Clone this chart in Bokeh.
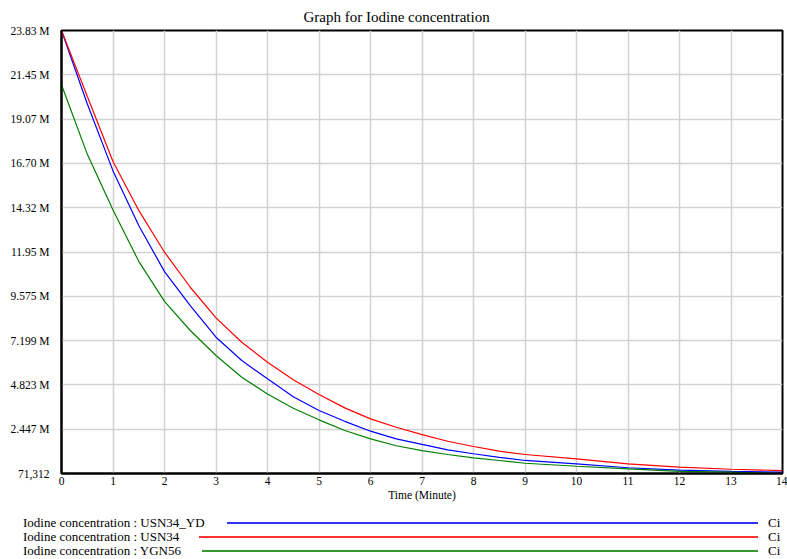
from bokeh.plotting import figure
from bokeh.models import Range1d, FixedTicker, Div
from bokeh.layouts import column
from bokeh.embed import file_html
from bokeh.resources import INLINE

# ---------------- data ----------------
time = [0, 0.5, 1, 1.5, 2, 2.5, 3, 3.5, 4, 4.5, 5, 5.5, 6, 6.5, 7, 7.5, 8, 8.5, 9, 10, 11, 12, 13, 14]

usn34_yd = [23830000, 19900000, 16300000, 13370000, 10900000, 9080000, 7380000, 6130000,
            5150000, 4190000, 3450000, 2870000, 2340000, 1930000, 1630000, 1340000,
            1130000, 940000, 770000, 590000, 380000, 250000, 190000, 140000]
usn34 = [23830000, 20300000, 16800000, 14180000, 11940000, 10060000, 8420000, 7110000,
         6040000, 5100000, 4310000, 3590000, 3000000, 2550000, 2160000, 1800000,
         1520000, 1270000, 1090000, 860000, 590000, 410000, 300000, 230000]
ygn56 = [20920000, 17200000, 14200000, 11450000, 9300000, 7740000, 6400000, 5230000,
         4340000, 3570000, 2950000, 2380000, 1930000, 1560000, 1300000, 1090000,
         910000, 770000, 620000, 460000, 320000, 190000, 140000, 71312]

series_names = ["Iodine concentration : USN34_YD",
                "Iodine concentration : USN34",
                "Iodine concentration : YGN56"]
series_units = ["Ci", "Ci", "Ci"]
series_colors = ["#0000ff", "#ff0000", "#008000"]

y_min = 71312
y_max = 23830000
y_tick_labels = ["71,312", "2.447 M", "4.823 M", "7.199 M", "9.575 M", "11.95 M",
                 "14.32 M", "16.70 M", "19.07 M", "21.45 M", "23.83 M"]
x_ticks = list(range(0, 15))

title_text = "Graph for Iodine concentration"
x_label = "Time (Minute)"

FONT = "Liberation Serif"

# ---------------- main chart ----------------
p = figure(width=787, height=503, output_backend="svg", toolbar_location=None,
           x_range=Range1d(0, 14), y_range=Range1d(y_min, y_max),
           min_border_left=61, min_border_right=5, min_border_top=30, min_border_bottom=30,
           title=title_text)
p.background_fill_color = "white"
p.border_fill_color = "white"
p.outline_line_color = "black"
p.outline_line_width = 2

p.title.text_font = FONT
p.title.text_font_size = "15px"
p.title.text_font_style = "normal"
p.title.align = "left"
p.title.offset = 242
p.title.vertical_align = "middle"
p.title.text_color = "black"

step = (y_max - y_min) / (len(y_tick_labels) - 1)
y_ticks = [y_min + i * step for i in range(len(y_tick_labels))]
p.yaxis.ticker = FixedTicker(ticks=y_ticks)
p.yaxis.major_label_overrides = {t: lab for t, lab in zip(y_ticks, y_tick_labels)}
p.xaxis.ticker = FixedTicker(ticks=x_ticks)
p.xaxis.axis_label = x_label

for ax in (p.xaxis, p.yaxis):
    ax.axis_line_color = "black"
    ax.axis_line_width = 2
    ax.major_tick_out = 0
    ax.major_tick_in = 0
    ax.minor_tick_out = 0
    ax.minor_tick_in = 0
    ax.major_label_text_font = FONT
    ax.major_label_text_font_size = "11.5px"
    ax.major_label_text_color = "black"
    ax.axis_label_text_font = FONT
    ax.axis_label_text_font_size = "11.5px"
    ax.axis_label_text_font_style = "normal"
    ax.axis_label_text_color = "black"
p.yaxis.major_label_standoff = 12
p.xaxis.major_label_standoff = 3
p.xaxis.axis_label_standoff = 1

p.grid.grid_line_color = "#d2d2d2"
p.grid.grid_line_width = 1.5

for ys, col in zip([usn34_yd, usn34, ygn56], series_colors):
    p.line(time, ys, line_color=col, line_width=1.2)

# ---------------- legend strip (HTML) ----------------
row_center = [20, 34, 48]
line_start = [227, 199, 202]
line_end = 758
parts = []
for name, unit, col, cy, x0 in zip(series_names, series_units, series_colors, row_center, line_start):
    parts.append(
        f'<div style="position:absolute;left:23px;top:{cy - 8}px;line-height:16px;'
        f'font-family:\'{FONT}\';font-size:13px;color:black;white-space:nowrap;">{name}</div>'
    )
    parts.append(
        f'<div style="position:absolute;left:{x0}px;top:{cy - 1}px;width:{line_end - x0}px;'
        f'height:2px;background-color:{col};opacity:0.8;"></div>'
    )
    parts.append(
        f'<div style="position:absolute;left:768px;top:{cy - 8}px;line-height:16px;'
        f'font-family:\'{FONT}\';font-size:13px;color:black;white-space:nowrap;">{unit}</div>'
    )
legend_html = ('<div style="position:relative;width:787px;height:56px;background:white;">'
               + "".join(parts) + "</div>")
legend = Div(text=legend_html, width=787, height=56, margin=0)

layout = column(p, legend, spacing=0)
open("out.html", "w").write(file_html(layout, INLINE))
